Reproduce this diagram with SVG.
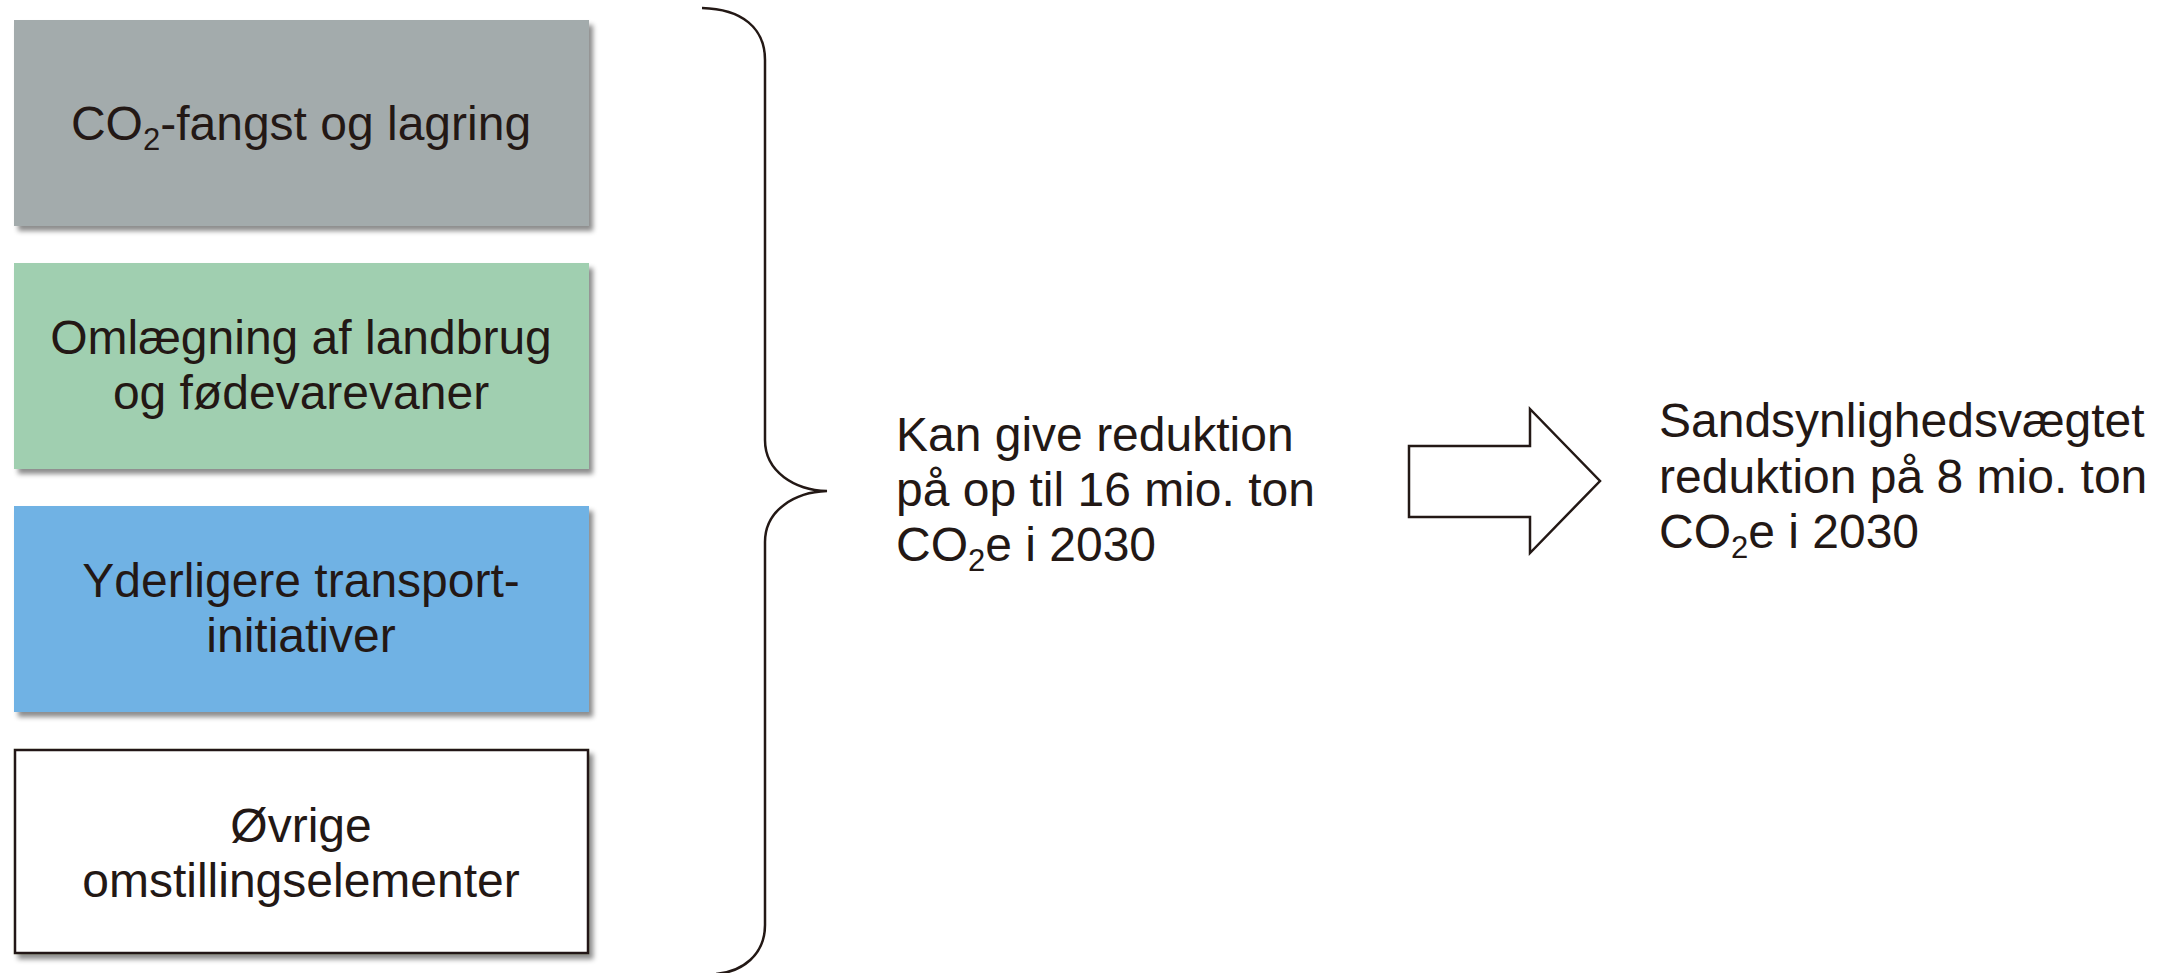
<svg xmlns="http://www.w3.org/2000/svg" width="2168" height="973" viewBox="0 0 2168 973">
<defs>
<filter id="sh" x="-5%" y="-10%" width="115%" height="130%">
<feDropShadow dx="4" dy="5" stdDeviation="2.5" flood-color="#000" flood-opacity="0.45"/>
</filter>
<style>
.t{font-family:"Liberation Sans",Arial,sans-serif;font-size:48px;fill:#231815}
.c{text-anchor:middle}
.sub{font-size:31px}
.box{filter:url(#sh)}
.line{fill:none;stroke:#231815;stroke-width:2.5}
</style>
</defs>
<rect width="2168" height="973" fill="#fff"/>
<g id="node-ccs">
<rect class="box" x="14" y="20" width="575" height="206" fill="#A3ABAC"/>
<text class="t c" x="301" y="140">CO<tspan class="sub" dy="10">2</tspan><tspan dy="-10">-fangst og lagring</tspan></text>
</g>
<g id="node-landbrug">
<rect class="box" x="14" y="263" width="575" height="206" fill="#A0CFB0"/>
<text class="t c" x="301" y="354">Omlægning af landbrug</text>
<text class="t c" x="301" y="409">og fødevarevaner</text>
</g>
<g id="node-transport">
<rect class="box" x="14" y="506" width="575" height="206" fill="#70B2E4"/>
<text class="t c" x="301" y="597">Yderligere transport-</text>
<text class="t c" x="301" y="652">initiativer</text>
</g>
<g id="node-oevrige">
<rect class="box" x="15" y="750" width="573" height="203" fill="#fff" stroke="#231815" stroke-width="2.5"/>
<text class="t c" x="301" y="842">Øvrige</text>
<text class="t c" x="301" y="897">omstillingselementer</text>
</g>
<g id="connectors">
<path class="line" d="M702,8 C742,9 765,28 765,60 L765,440 C765,472 795,490 827,491 C795,492 765,510 765,542 L765,925 C765,955 742,972 716,974"/>
<polygon class="line" points="1409,446 1530,446 1530,409 1600,481 1530,553 1530,517 1409,517" style="fill:#fff"/>
</g>
<g id="node-kan">
<text class="t" x="896" y="451">Kan give reduktion</text>
<text class="t" x="896" y="506">på op til 16 mio. ton</text>
<text class="t" x="896" y="561">CO<tspan class="sub" dy="10">2</tspan><tspan dy="-10">e i 2030</tspan></text>
</g>
<g id="node-sandsynlig">
<text class="t" x="1659" y="437">Sandsynlighedsvægtet</text>
<text class="t" x="1659" y="493">reduktion på 8 mio. ton</text>
<text class="t" x="1659" y="548">CO<tspan class="sub" dy="10">2</tspan><tspan dy="-10">e i 2030</tspan></text>
</g>
</svg>
